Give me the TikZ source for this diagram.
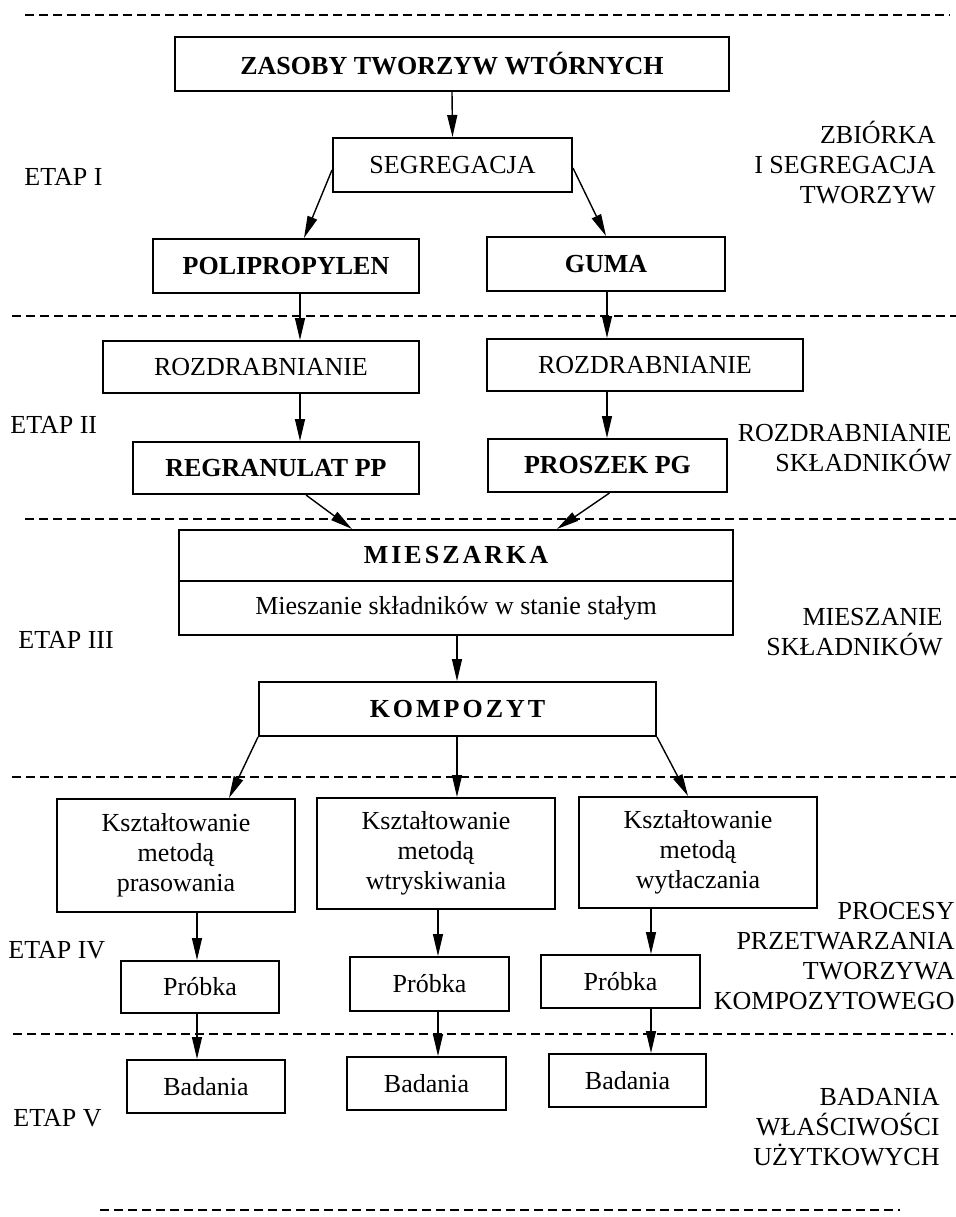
\documentclass[tikz,border=0pt]{standalone}
\usepackage{fontspec}
\setmainfont{Liberation Serif}
\usetikzlibrary{arrows.meta,calc}
\begin{document}
\begin{tikzpicture}[x=0.5pt,y=-0.5pt,
  txt/.style={font=\fontsize{13pt}{15pt}\selectfont, inner sep=0pt, align=left},
  rtxt/.style={font=\fontsize{13pt}{15pt}\selectfont, inner sep=0pt, align=right, anchor=east},
  box/.style={draw, line width=1pt, inner sep=0pt, align=center, font=\fontsize{13pt}{15pt}\selectfont},
  bbox/.style={box, font=\fontsize{13pt}{15pt}\selectfont\bfseries},
  sbox/.style={box, font=\fontsize{13pt}{15pt}\selectfont\bfseries\addfontfeature{LetterSpace=11.5}},
  arr/.style={line width=0.7pt, -{Triangle[length=11pt,width=5pt]}},
  sepline/.style={dash pattern=on 4.5pt off 2.5pt, line width=0.75pt}]
\useasboundingbox (0,0) rectangle (956,1217);

% separators
\draw[sepline] (25,15) -- (950,15);
\draw[sepline] (12,316) -- (956,316);
\draw[sepline] (25,519) -- (956,519);
\draw[sepline] (12,777) -- (956,777);
\draw[sepline] (13,1034) -- (953,1034);
\draw[sepline] (100,1210) -- (900,1210);

% column coordinates
\coordinate (c1) at (300,0);
\coordinate (c2) at (607,0);
\coordinate (cm) at (457,0);
\coordinate (q1) at (197,0);
\coordinate (q2) at (438,0);
\coordinate (q3) at (651,0);

% boxes
\node[bbox, minimum width=277pt, minimum height=27pt] (zas) at (452,64) {ZASOBY TWORZYW WTÓRNYCH};
\node[box, minimum width=119.5pt, minimum height=27pt] (seg) at (452.5,165) {SEGREGACJA};
\node[bbox, minimum width=133pt, minimum height=27pt] (pol) at (286,266) {POLIPROPYLEN};
\node[bbox, minimum width=119pt, minimum height=27pt] (gum) at (606,264) {GUMA};
\node[box, minimum width=158pt, minimum height=26pt] (roz1) at (261,367) {ROZDRABNIANIE};
\node[box, minimum width=158pt, minimum height=26pt] (roz2) at (645,365) {ROZDRABNIANIE};
\node[bbox, minimum width=143pt, minimum height=26pt] (reg) at (276,468) {REGRANULAT PP};
\node[bbox, minimum width=119.5pt, minimum height=26.5pt] (pro) at (607.5,465.5) {PROSZEK PG};
\node[sbox, minimum width=277pt, minimum height=25.5pt] (mieA) at (456,555.5) {MIESZARKA};
\node[box, minimum width=277pt, minimum height=27pt] (mieB) at (456,608) {Mieszanie składników w stanie stałym};
\node[sbox, minimum width=198.5pt, minimum height=27pt] (kom) at (457.5,709) {KOMPOZYT};
\node[box, minimum width=119pt, minimum height=56.5pt] (k1) at (176,855.5) {Kształtowanie\\metodą\\prasowania};
\node[box, minimum width=119pt, minimum height=55.5pt] (k2) at (436,853.5) {Kształtowanie\\metodą\\wtryskiwania};
\node[box, minimum width=119pt, minimum height=55.5pt] (k3) at (698,852.5) {Kształtowanie\\metodą\\wytłaczania};
\node[box, minimum width=79pt, minimum height=26pt] (p1) at (200,987) {Próbka};
\node[box, minimum width=79.5pt, minimum height=27pt] (p2) at (429.5,984) {Próbka};
\node[box, minimum width=79.5pt, minimum height=26.5pt] (p3) at (620.5,981.5) {Próbka};
\node[box, minimum width=79pt, minimum height=26.5pt] (b1) at (206,1086.5) {Badania};
\node[box, minimum width=79.5pt, minimum height=26.5pt] (b2) at (426.5,1083.5) {Badania};
\node[box, minimum width=78.5pt, minimum height=26.5pt] (b3) at (627.5,1080.5) {Badania};

% arrows
\draw[arr] (zas.south) -- (seg.north);
\draw[arr] ([yshift=-2.5pt]seg.west) -- ([xshift=9pt]pol.north);
\draw[arr] ([yshift=-1.5pt]seg.east) -- (gum.north);
\draw[arr] (pol.south -| c1) -- (roz1.north -| c1);
\draw[arr] (gum.south -| c2) -- (roz2.north -| c2);
\draw[arr] (roz1.south -| c1) -- (reg.north -| c1);
\draw[arr] (roz2.south -| c2) -- (pro.north -| c2);
\draw[arr] ([xshift=15pt]reg.south) -- ([xshift=-52pt]mieA.north);
\draw[arr] ([xshift=1pt]pro.south) -- ([xshift=50.5pt]mieA.north);
\draw[arr] (mieB.south -| cm) -- (kom.north -| cm);
\draw[arr] (kom.south west) -- ([xshift=26.5pt]k1.north);
\draw[arr] (kom.south -| cm) -- (k2.north -| cm);
\draw[arr] (kom.south east) -- ([xshift=-5pt]k3.north);
\draw[arr] (k1.south -| q1) -- (p1.north -| q1);
\draw[arr] (k2.south -| q2) -- (p2.north -| q2);
\draw[arr] (k3.south -| q3) -- (p3.north -| q3);
\draw[arr] (p1.south -| q1) -- (b1.north -| q1);
\draw[arr] (p2.south -| q2) -- (b2.north -| q2);
\draw[arr] (p3.south -| q3) -- (b3.north -| q3);

% stage labels (left)
\node[txt, anchor=west] (e1) at (24,177) {ETAP I};
\node[txt, anchor=west] (e2) at (10,425) {ETAP II};
\node[txt, anchor=west] (e3) at (18,640) {ETAP III};
\node[txt, anchor=west] (e4) at (8,950) {ETAP IV};
\node[txt, anchor=west] (e5) at (13,1118) {ETAP V};

% stage descriptions (right)
\node[rtxt] (d1) at (936,163) {ZBIÓRKA\\I SEGREGACJA\\TWORZYW};
\node[rtxt] (d2) at (952,448) {ROZDRABNIANIE\\SKŁADNIKÓW};
\node[rtxt] (d3) at (943,632) {MIESZANIE\\SKŁADNIKÓW};
\node[rtxt] (d4) at (955,956) {PROCESY\\PRZETWARZANIA\\TWORZYWA\\KOMPOZYTOWEGO};
\node[rtxt] (d5) at (940,1127) {BADANIA\\WŁAŚCIWOŚCI\\UŻYTKOWYCH};
\end{tikzpicture}
\end{document}
